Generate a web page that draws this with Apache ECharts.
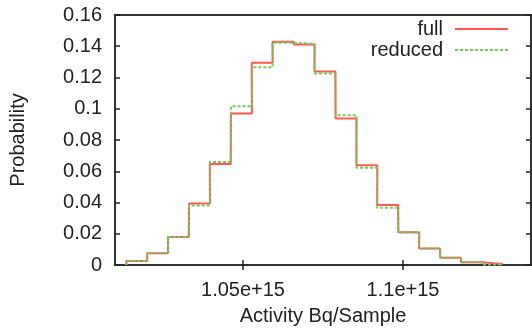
<!DOCTYPE html>
<html><head><meta charset="utf-8">
<script src="https://cdn.jsdelivr.net/npm/echarts@6/dist/echarts.min.js"></script>
<style>html,body{margin:0;padding:0;background:#fff}#c{width:532px;height:331px}</style>
</head><body><div id="c"></div>
<script>
// Bin centres, in units of 1e15 Bq/Sample
const binCenters = [1.0168, 1.0233, 1.0298, 1.0364, 1.0429, 1.0495, 1.0560, 1.0625, 1.0691,
                    1.0756, 1.0822, 1.0887, 1.0952, 1.1018, 1.1083, 1.1149, 1.1214, 1.1279];
const binWidth = 0.00654;
const fullProb    = [0.0025, 0.0076, 0.0180, 0.0394, 0.0647, 0.0970, 0.1295, 0.1429, 0.1412,
                     0.1239, 0.0938, 0.0639, 0.0384, 0.0210, 0.0106, 0.0046, 0.0018, 0.0006];
const reducedProb = [0.0025, 0.0076, 0.0180, 0.0381, 0.0660, 0.1016, 0.1266, 0.1422, 0.1415,
                     0.1225, 0.0959, 0.0623, 0.0367, 0.0208, 0.0106, 0.0046, 0.0018, 0.0003];
const xTickValues = [1.05, 1.1];
const xTickLabels = ['1.05e+15', '1.1e+15'];
const seriesNames = ['full', 'reduced'];

function stepData(vals) {
  const pts = [[binCenters[0] - binWidth / 2, 0]];
  for (let i = 0; i < vals.length; i++) {
    pts.push([binCenters[i] - binWidth / 2, vals[i]]);
    pts.push([binCenters[i] + binWidth / 2, vals[i]]);
  }
  return pts;
}

const FONT = 'Liberation Sans';
const FS = 20;
const TXT = '#222';
const chart = echarts.init(document.getElementById('c'), null, {renderer: 'canvas'});
const xBase = {
  type: 'value', min: 1.01, max: 1.14,
  axisLine: {show: false},
  splitLine: {show: false},
  axisTick: {show: true, inside: true, length: 5, customValues: xTickValues,
             lineStyle: {color: '#222', width: 1.5}},
};
const yBase = {
  type: 'value', min: 0, max: 0.16, interval: 0.02,
  axisLine: {show: false},
  splitLine: {show: false},
  axisTick: {show: true, inside: true, length: 5, lineStyle: {color: '#222', width: 1.5}},
};
const legendBase = {
  right: 23, align: 'right', itemWidth: 53, itemHeight: 14, padding: 0,
  itemStyle: {opacity: 0, borderWidth: 0},
  textStyle: {fontFamily: FONT, fontSize: FS, color: TXT, padding: [0, 7, 0, 0]}
};
chart.setOption({
  animation: false,
  backgroundColor: '#fff',
  grid: {left: 115, right: 1, top: 15, bottom: 64, show: true,
         borderColor: '#333', borderWidth: 2, backgroundColor: 'transparent'},
  xAxis: [
    Object.assign({}, xBase, {
      position: 'bottom',
      name: 'Activity Bq/Sample', nameLocation: 'middle', nameGap: 41,
      nameTextStyle: {fontFamily: FONT, fontSize: FS, color: TXT},
      axisLabel: {show: true, customValues: xTickValues, margin: 15,
        fontFamily: FONT, fontSize: FS, color: TXT,
        formatter: v => xTickLabels[xTickValues.findIndex(t => Math.abs(t - v) < 1e-9)]}
    }),
    Object.assign({}, xBase, {position: 'top', axisLabel: {show: false}})
  ],
  yAxis: [
    Object.assign({}, yBase, {
      position: 'left',
      name: 'Probability', nameLocation: 'middle', nameGap: 87,
      nameTextStyle: {fontFamily: FONT, fontSize: FS, color: TXT},
      axisLabel: {show: true, margin: 13, fontFamily: FONT, fontSize: FS, color: TXT,
        formatter: v => String(parseFloat(v.toFixed(2)))}
    }),
    Object.assign({}, yBase, {position: 'right', axisLabel: {show: false}})
  ],
  legend: [
    Object.assign({}, legendBase, {data: [seriesNames[0]], top: 19}),
    Object.assign({}, legendBase, {data: [seriesNames[1]], top: 40})
  ],
  series: [
    {name: seriesNames[0], type: 'line', data: stepData(fullProb), showSymbol: false,
     symbol: 'none', color: '#ff5a52', lineStyle: {color: '#ff5a52', width: 2}},
    {name: seriesNames[1], type: 'line', data: stepData(reducedProb), showSymbol: false,
     symbol: 'none', color: '#74c85c', lineStyle: {color: '#74c85c', width: 2, type: [3, 2]}}
  ]
});
</script></body></html>
